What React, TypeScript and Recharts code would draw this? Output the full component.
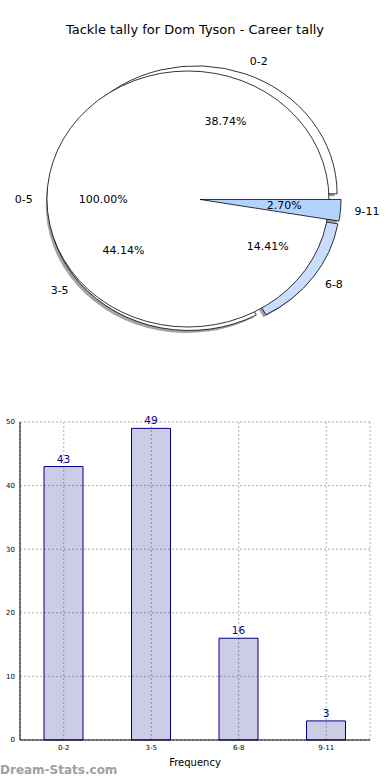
import React from "react";
import {
    PieChart,
    Pie,
    BarChart,
    Bar,
    XAxis,
    YAxis,
    CartesianGrid,
    LabelList,
} from "recharts";

// tackle groups and how often each came up
const ageGroups = ["0-2", "3-5", "6-8", "9-11"];
const tackleCounts = [43, 49, 16, 3];
const overallGroup = ["0-5"];
const overallCount = [111];
const yTicks = [0, 10, 20, 30, 40, 50];

const FONT = '"DejaVu Sans", Verdana, sans-serif';
const SLICE_FILLS = ["#ffffff", "#ffffff", "#c9ddff", "#b3d3ff"];
const RY_RATIO = 128 / 141;
const EXPLODE = 0.043;
const RAD = Math.PI / 180;

const pieData = ageGroups.map((name, i) => ({ name, value: tackleCounts[i] }));
const overallData = overallGroup.map((name, i) => ({ name, value: overallCount[i] }));
const barData = ageGroups.map((name, i) => ({ name, count: tackleCounts[i] }));

// elliptical wedge, angles counter-clockwise from 3 o'clock
function wedgePath(cx: number, cy: number, rx: number, ry: number, a0: number, a1: number) {
    if (a1 - a0 >= 359.99) {
        return `M${cx - rx},${cy} A${rx},${ry} 0 1 0 ${cx + rx},${cy} A${rx},${ry} 0 1 0 ${cx - rx},${cy} Z`;
    }
    const x0 = cx + rx * Math.cos(a0 * RAD);
    const y0 = cy - ry * Math.sin(a0 * RAD);
    const x1 = cx + rx * Math.cos(a1 * RAD);
    const y1 = cy - ry * Math.sin(a1 * RAD);
    const large = a1 - a0 > 180 ? 1 : 0;
    return `M${cx},${cy} L${x0},${y0} A${rx},${ry} 0 ${large} 0 ${x1},${y1} Z`;
}

type LayerOpts = { shadows: number[]; wedges: number[]; texts: boolean; fills: string[] };

const makeLayer = (opts: LayerOpts) => (props: any) => {
    const { cx, cy, outerRadius, startAngle, endAngle, midAngle, percent, name, index } = props;
    const rx = outerRadius;
    const ry = outerRadius * RY_RATIO;
    const m = midAngle * RAD;
    const ox = cx + EXPLODE * rx * Math.cos(m);
    const oy = cy - EXPLODE * ry * Math.sin(m);
    const d = wedgePath(ox, oy, rx, ry, startAngle, endAngle);

    const lx = ox + 1.1 * rx * Math.cos(m);
    const ly = oy - 1.1 * ry * Math.sin(m);
    const px = ox + 0.6 * rx * Math.cos(m);
    const py = oy - 0.6 * ry * Math.sin(m);

    return (
        <g>
            {opts.shadows.includes(index) && (
                <path d={d} transform="translate(-2.5,2.5)" fill="#555" fillOpacity={0.55} stroke="none" />
            )}
            {opts.wedges.includes(index) && (
                <path d={d} fill={opts.fills[index]} stroke="#000" strokeWidth={0.8} />
            )}
            {opts.texts && (
                <>
                    <text
                        x={lx}
                        y={ly}
                        textAnchor={Math.cos(m) > 0 ? "start" : "end"}
                        dominantBaseline="central"
                        fontSize={11}
                        fontFamily={FONT}
                        fill="#000"
                    >
                        {name}
                    </text>
                    <text
                        x={px}
                        y={py}
                        textAnchor="middle"
                        dominantBaseline="central"
                        fontSize={11}
                        fontFamily={FONT}
                        fill="#000"
                    >
                        {(percent * 100).toFixed(2)}%
                    </text>
                </>
            )}
        </g>
    );
};

export default function App() {
    return (
        <div
            style={{
                position: "absolute",
                left: 0,
                top: 0,
                width: 390,
                height: 780,
                background: "#fff",
                fontFamily: FONT,
                overflow: "hidden",
            }}
        >
            <div
                style={{
                    position: "absolute",
                    top: 22,
                    left: 0,
                    width: 390,
                    textAlign: "center",
                    fontSize: 13,
                    lineHeight: "16px",
                    color: "#000",
                }}
            >
                Tackle tally for Dom Tyson - Career tally
            </div>

            <div style={{ position: "absolute", top: 0, left: 0 }}>
                <PieChart width={390} height={360} margin={{ top: 0, right: 0, bottom: 0, left: 0 }}>
                    <Pie
                        data={pieData}
                        dataKey="value"
                        cx={194}
                        cy={199}
                        outerRadius={141}
                        startAngle={0}
                        endAngle={360}
                        fill="none"
                        stroke="none"
                        labelLine={false}
                        label={makeLayer({ shadows: [0, 1, 2, 3], wedges: [0, 1, 2], texts: false, fills: SLICE_FILLS })}
                        isAnimationActive={false}
                    />
                    <Pie
                        data={overallData}
                        dataKey="value"
                        cx={194}
                        cy={199}
                        outerRadius={141}
                        startAngle={0}
                        endAngle={360}
                        fill="none"
                        stroke="none"
                        labelLine={false}
                        label={makeLayer({ shadows: [], wedges: [0], texts: true, fills: ["#ffffff"] })}
                        isAnimationActive={false}
                    />
                    <Pie
                        data={pieData}
                        dataKey="value"
                        cx={194}
                        cy={199}
                        outerRadius={141}
                        startAngle={0}
                        endAngle={360}
                        fill="none"
                        stroke="none"
                        labelLine={false}
                        label={makeLayer({ shadows: [], wedges: [3], texts: true, fills: SLICE_FILLS })}
                        isAnimationActive={false}
                    />
                </PieChart>
            </div>

            <div style={{ position: "absolute", top: 410, left: 0 }}>
                <BarChart
                    width={390}
                    height={370}
                    data={barData}
                    margin={{ top: 12, right: 20, bottom: 10, left: 0 }}
                >
                    <CartesianGrid stroke="#b0b0b0" strokeDasharray="2 2" />
                    <XAxis
                        dataKey="name"
                        axisLine={{ stroke: "#000", strokeWidth: 1 }}
                        tickLine={false}
                        tickSize={3}
                        tickMargin={2}
                        tick={{ fill: "#000", fontSize: 7, fontFamily: FONT }}
                        height={30}
                        label={{
                            value: "Frequency",
                            position: "insideBottom",
                            offset: 4,
                            fill: "#000",
                            fontSize: 10,
                            fontFamily: FONT,
                        }}
                    />
                    <XAxis
                        xAxisId="top"
                        dataKey="name"
                        orientation="top"
                        height={0}
                        tick={false}
                        tickLine={false}
                        axisLine={{ stroke: "#000", strokeWidth: 1 }}
                    />
                    <YAxis
                        domain={[0, 50]}
                        ticks={yTicks}
                        width={20}
                        axisLine={{ stroke: "#000", strokeWidth: 1 }}
                        tickLine={false}
                        tickSize={3}
                        tickMargin={2}
                        tick={{ fill: "#000", fontSize: 7, fontFamily: FONT }}
                    />
                    <YAxis
                        yAxisId="right"
                        orientation="right"
                        domain={[0, 50]}
                        width={0}
                        tick={false}
                        tickLine={false}
                        axisLine={{ stroke: "#000", strokeWidth: 1 }}
                    />
                    <Bar
                        dataKey="count"
                        barSize={39}
                        fill="#000080"
                        fillOpacity={0.2}
                        stroke="#000080"
                        strokeWidth={1}
                        isAnimationActive={false}
                    >
                        <LabelList
                            dataKey="count"
                            position="top"
                            offset={4}
                            fill="#000080"
                            fontSize={10.5}
                            fontFamily={FONT}
                        />
                    </Bar>
                </BarChart>
            </div>

            <div
                style={{
                    position: "absolute",
                    left: 0,
                    top: 762,
                    fontSize: 12,
                    lineHeight: "16px",
                    fontWeight: "bold",
                    color: "#a0a0a0",
                }}
            >
                Dream-Stats.com
            </div>
        </div>
    );
}
